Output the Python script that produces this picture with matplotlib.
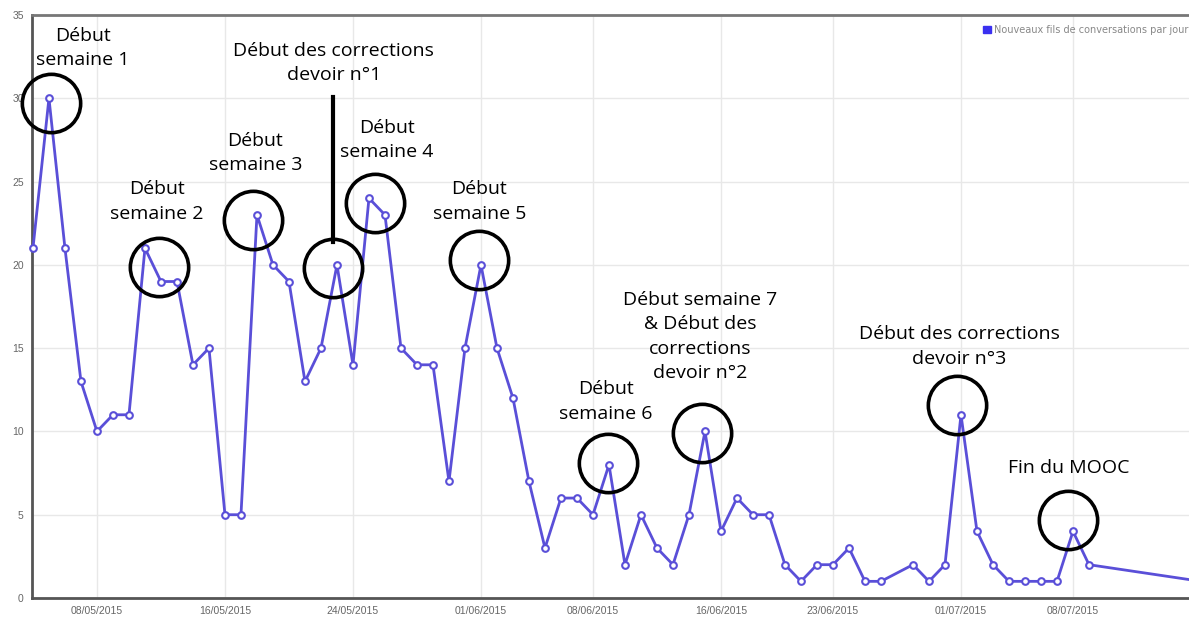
import datetime as dt
import matplotlib
matplotlib.use("Agg")
import matplotlib.pyplot as plt
from matplotlib.patches import Patch

# daily new threads, from 04/05/2015 (27/06 has no point)
dates = (["2015-05-%02d" % d for d in range(4, 32)]
         + ["2015-06-%02d" % d for d in range(1, 27)]
         + ["2015-06-28", "2015-06-29", "2015-06-30"]
         + ["2015-07-%02d" % d for d in range(1, 10)]
         + ["2015-07-16"])
values = [21, 30, 21, 13, 10, 11, 11, 21, 19, 19, 14, 15, 5, 5, 23, 20, 19, 13,
          15, 20, 14, 24, 23, 15, 14, 14, 7, 15,
          20, 15, 12, 7, 3, 6, 6, 5, 8, 2, 5, 3, 2, 5, 10, 4, 6, 5, 5, 2, 1, 2,
          2, 3, 1, 1,
          2, 1, 2,
          11, 4, 2, 1, 1, 1, 1, 4, 2,
          1]
tick_dates = ["2015-05-08", "2015-05-16", "2015-05-24", "2015-06-01", "2015-06-08",
              "2015-06-16", "2015-06-23", "2015-07-01", "2015-07-08"]
tick_labels = [d[8:] + "/" + d[5:7] + "/" + d[:4] for d in tick_dates]
legend_label = "Nouveaux fils de conversations par jour"

# annotations: text, circle (days from start, value), text centre (days, value)
notes = [
    ("Début\nsemaine 1", (1.125, 29.7), (3.1, 33.0)),
    ("Début\nsemaine 2", (7.875, 19.9), (7.75, 23.8)),
    ("Début\nsemaine 3", (13.75, 22.7), (13.9, 26.7)),
    ("Début des corrections\ndevoir n°1", (18.75, 19.8), (18.8, 32.1)),
    ("Début\nsemaine 4", (21.375, 23.7), (22.1, 27.5)),
    ("Début\nsemaine 5", (27.875, 20.3), (27.9, 23.8)),
    ("Début semaine 7\n& Début des\ncorrections\ndevoir n°2", (41.8, 9.9), (41.7, 15.7)),
    ("Début\nsemaine 6", (35.94, 8.1), (35.8, 11.8)),
    ("Début des corrections\ndevoir n°3", (57.75, 11.6), (57.9, 15.1)),
    ("Fin du MOOC", (64.7, 4.7), (64.75, 7.8)),
]

start = dt.datetime(2015, 5, 4)
x = [dt.datetime.strptime(d, "%Y-%m-%d") for d in dates]
day = lambda n: start + dt.timedelta(days=n)

W, H = 1189, 618
fig = plt.figure(figsize=(W / 100, H / 100), dpi=100)
ax = fig.add_axes([32 / W, 20 / H, 1 - 32 / W, 583 / H])

ax.plot(x, values, color="#5a4fd8", lw=2, marker="o", ms=4.8, mfc="white",
        mec="#5a4fd8", mew=1.5, zorder=3, clip_on=False)

ax.set_xlim(day(-0.06), day(72.25))
ax.set_ylim(0, 35)
ax.set_yticks(range(0, 36, 5))
ax.set_xticks([dt.datetime.strptime(d, "%Y-%m-%d") for d in tick_dates])
ax.set_xticklabels(tick_labels)
ax.tick_params(length=0, labelsize=7.5, labelcolor="#666666", pad=6)
for lab in ax.get_xticklabels() + ax.get_yticklabels():
    lab.set_family("Liberation Sans")
ax.grid(color="#e8e8e8", lw=1)
ax.set_axisbelow(True)
ax.spines["right"].set_visible(False)
ax.spines["left"].set_color("#555555")
ax.spines["bottom"].set_color("#555555")
ax.spines["top"].set_color("#777777")
for s in ["left", "bottom", "top"]:
    ax.spines[s].set_linewidth(2)

for text, (cx, cy), (tx, ty) in notes:
    ax.plot([day(cx)], [cy], marker="o", ms=42, mfc="none", mec="black",
            mew=2.6, zorder=4, clip_on=False)
    ax.text(day(tx), ty, text, ha="center", va="center", fontsize=14,
            family="Open Sans", color="black", linespacing=1.45, zorder=5)

# pointer line for the first correction note
ax.plot([day(18.75), day(18.75)], [21.4, 30.1], color="black", lw=3, zorder=4)

fig.legend(handles=[Patch(facecolor="#3a30f0", edgecolor="#3a30f0", label=legend_label)],
           loc="upper left", bbox_to_anchor=(978 / W, 1 - 20 / H), frameon=False,
           fontsize=7, handlelength=0.8, handleheight=0.8, handletextpad=0.3,
           borderpad=0, labelcolor="#888888")

fig.savefig("out.png", dpi=100)
